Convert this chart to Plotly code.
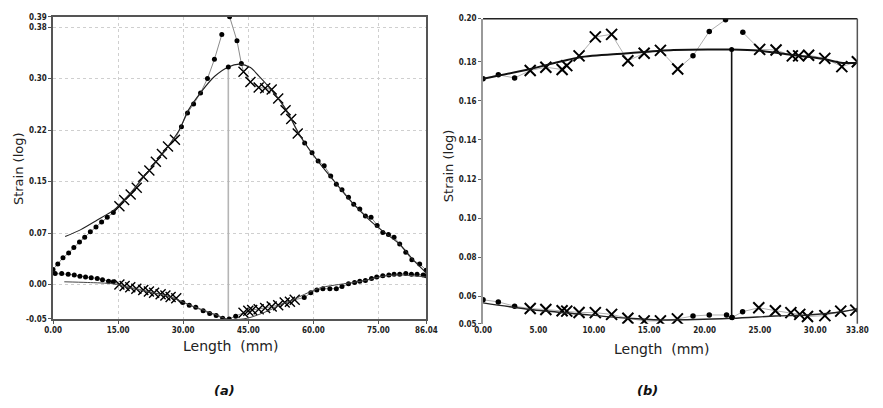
import plotly.graph_objects as go

# ---------------- Panel (a) data ----------------
a_up_x = [0.0, 1.1, 2.3, 3.6, 4.8, 6.1, 7.3, 8.6, 9.9, 11.2, 12.5, 13.9,
          15.3, 16.4, 17.9, 19.3, 20.8, 22.2, 23.7, 25.1, 26.5, 28.1,
          29.6, 31.0, 32.4, 34.0, 35.6, 37.2, 38.9, None,
          40.7, 42.4, 43.4,
          43.9, 45.5, 47.4, 48.9, 50.4, 51.9, 53.6, 54.9, 56.4,
          58.0, 59.7, 61.1, 62.5, 64.0, 65.3, 66.6, 68.1, 69.3, 70.7, 72.0, 73.3,
          74.7, 76.0, 77.3, 78.6, 79.9, 81.3, 82.7, 84.5, 86.0]
a_up_y = [0.022, 0.030, 0.039, 0.046, 0.054, 0.062, 0.069, 0.077, 0.084, 0.091, 0.098, 0.105,
          0.114, 0.123, 0.131, 0.141, 0.157, 0.166, 0.179, 0.190, 0.201, 0.211,
          0.230, 0.250, 0.263, 0.279, 0.300, 0.328, 0.364, None,
          0.390, 0.355, 0.322,
          0.310, 0.295, 0.287, 0.286, 0.284, 0.271, 0.254, 0.241, 0.220,
          0.206, 0.192, 0.180, 0.173, 0.158, 0.146, 0.138, 0.127, 0.117, 0.110, 0.100, 0.098,
          0.086, 0.076, 0.073, 0.069, 0.059, 0.047, 0.036, 0.030, 0.021]
a_up_kind = ["d"] * 12 + ["x"] * 10 + ["d"] * 7 + [None] + ["d"] * 3 + ["x"] * 9 + ["d"] * 21

a_up_fit_x = [2.8, 6.4, 10.2, 13.9, 17.0, 20.0, 23.0, 26.0, 29.0, 31.2, 34.2, 37.2, 40.4, 43.0,
              45.5, 47.4, 49.3, 51.5, 53.6, 56.4, 59.0, 62.0, 65.0, 68.0, 71.0, 74.0, 77.0,
              80.0, 83.0, 86.04]
a_up_fit_y = [0.070, 0.080, 0.094, 0.108, 0.127, 0.150, 0.173, 0.197, 0.224, 0.254, 0.281, 0.303,
              0.317, 0.321, 0.316, 0.304, 0.291, 0.274, 0.256, 0.223, 0.197, 0.172, 0.149,
              0.126, 0.106, 0.088, 0.073, 0.058, 0.036, 0.017]

a_lo_x = [0.5, 2.0, 3.5, 4.9, 6.2, 7.5, 8.8, 10.2, 11.4, 12.8, 13.9,
          15.3, 16.5, 17.8, 19.2, 20.8, 22.1, 23.3, 24.8, 25.9, 27.1, 28.4,
          29.9, 31.4, 32.9, 34.6, 36.1, 37.6, 39.1, 40.6, 42.1,
          43.9, 45.0, 45.9, 47.4, 48.9, 50.4, 51.9, 53.4, 54.6, 55.7,
          57.9, 59.4, 60.8, 62.2, 63.8, 65.3, 66.6, 68.1, 69.5, 70.7, 72.0, 73.4, 74.6,
          76.0, 77.4, 78.6, 79.9, 81.3, 82.6, 83.9, 85.3, 86.0]
a_lo_y = [0.016, 0.016, 0.015, 0.014, 0.012, 0.011, 0.010, 0.009, 0.007, 0.005, 0.004,
          0.000, -0.002, -0.004, -0.006, -0.008, -0.010, -0.012, -0.014, -0.016, -0.018, -0.020,
          -0.026, -0.030, -0.033, -0.038, -0.042, -0.045, -0.049, -0.050, -0.046,
          -0.041, -0.038, -0.037, -0.036, -0.034, -0.032, -0.030, -0.026, -0.025, -0.022,
          -0.019, -0.012, -0.008, -0.006, -0.006, -0.006, -0.003, 0.001, 0.003, 0.005, 0.006,
          0.009, 0.011, 0.013, 0.014, 0.015, 0.015, 0.016, 0.015, 0.015, 0.014, 0.013]
a_lo_kind = ["d"] * 11 + ["x"] * 11 + ["d"] * 9 + ["x"] * 10 + ["d"] * 22

a_lo_fit_x = [2.6, 8.0, 13.9, 17.0, 20.0, 23.0, 26.0, 29.0, 32.0, 35.0, 38.0, 40.6, 44.8, 49.3,
              52.3, 56.0, 59.8, 62.0, 65.8, 68.0, 72.0, 76.0, 80.0, 86.04]
a_lo_fit_y = [0.004, 0.003, 0.001, -0.004, -0.008, -0.012, -0.016, -0.023, -0.031, -0.038,
              -0.045, -0.051, -0.049, -0.039, -0.030, -0.020, -0.009, -0.004, 0.000, 0.002,
              0.006, 0.012, 0.014, 0.011]

a_vline_x = 40.4
a_vline_y = [-0.05, 0.317]

a_xticks = [0, 15, 30, 45, 60, 75, 86.04]
a_xtext = ["0.00", "15.00", "30.00", "45.00", "60.00", "75.00", "86.04"]
a_yticks = [-0.05, 0.0, 0.075, 0.15, 0.225, 0.30, 0.375, 0.39]
a_ytext = ["-0.05", "0.00", "0.07", "0.15", "0.22", "0.30", "0.38", "0.39"]

# ---------------- Panel (b) data ----------------
b_up_x = [0.0, 1.38, 2.85,
          4.26, 5.67, 7.14, 7.56, 8.67, 10.14, 11.61, 13.08, 14.55, 16.02, 17.58,
          18.96, 20.43, 21.9, None, 23.46,
          24.98, 26.46, 27.93, 28.5, 29.4, 30.86, 32.4, 33.8]
b_up_y = [0.1713, 0.1733, 0.1717,
          0.1755, 0.1772, 0.1760, 0.1780, 0.1830, 0.1927, 0.1940, 0.1805, 0.1843, 0.1858, 0.1763,
          0.1830, 0.1955, 0.2015, None, 0.1950,
          0.1863, 0.1860, 0.1830, 0.1830, 0.1833, 0.1817, 0.1775, 0.1800]
b_up_kind = ["d"] * 3 + ["x"] * 11 + ["d"] * 3 + [None] + ["d"] + ["x"] * 8

b_up_fit_x = [0.0, 4.26, 8.67, 12.8, 17.2, 22.43, 24.85, 27.8, 30.7, 32.3, 33.8]
b_up_fit_y = [0.1713, 0.1763, 0.1822, 0.1842, 0.1860, 0.1862, 0.1857, 0.1835, 0.1815, 0.1795, 0.1793]

b_lo_x = [0.0, 1.38, 2.85,
          4.26, 5.67, 7.14, 7.56, 8.67, 10.14, 11.61, 13.08, 14.55, 16.02, 17.55,
          18.96, 20.43, 21.99, 22.5, 23.44,
          24.9, 26.4, 27.8, 28.6, 29.3, 30.87, 32.3, 33.66]
b_lo_y = [0.0583, 0.0572, 0.0550,
          0.0538, 0.0533, 0.0527, 0.0525, 0.0518, 0.0517, 0.0508, 0.0488, 0.0475, 0.0475, 0.0485,
          0.0500, 0.0505, 0.0505, 0.0492, 0.0522,
          0.0542, 0.0527, 0.0517, 0.0508, 0.0497, 0.0502, 0.0525, 0.0530]
b_lo_kind = ["d"] * 3 + ["x"] * 11 + ["d"] * 5 + ["x"] * 8

b_lo_fit_x = [0.0, 4.26, 8.67, 13.08, 16.0, 22.5, 26.4, 29.3, 32.3, 33.66]
b_lo_fit_y = [0.0567, 0.0533, 0.0510, 0.0488, 0.0480, 0.0488, 0.0500, 0.0505, 0.0520, 0.0535]

b_vline_x = 22.45
b_vline_y = [0.0492, 0.1862]

b_xticks = [0, 5, 10, 15, 20, 25, 30, 33.8]
b_xtext = ["0.00", "5.00", "10.00", "15.00", "20.00", "25.00", "30.00", "33.80"]
b_yticks = [0.046, 0.06, 0.08, 0.10, 0.12, 0.14, 0.16, 0.18, 0.202]
b_ytext = ["0.05", "0.06", "0.08", "0.10", "0.12", "0.14", "0.16", "0.18", "0.20"]

x_title = "Length  (mm)"
y_title = "Strain (log)"
panel_labels = ["(a)", "(b)"]

# ---------------- Figure ----------------
fig = go.Figure()


def split_segments(xs, ys):
    segs, cx, cy = [], [], []
    for x, y in zip(xs, ys):
        if x is None:
            if cx:
                segs.append((cx, cy))
            cx, cy = [], []
        else:
            cx.append(x)
            cy.append(y)
    if cx:
        segs.append((cx, cy))
    return segs


def add_series(xs, ys, kinds, xa, ya, line_color, line_w, dot_size, x_size, x_lw):
    for sx, sy in split_segments(xs, ys):
        fig.add_trace(go.Scatter(x=sx, y=sy, mode="lines", xaxis=xa, yaxis=ya,
                                 line=dict(color=line_color, width=line_w), hoverinfo="skip"))
    dx = [x for x, k in zip(xs, kinds) if k == "d"]
    dy = [y for y, k in zip(ys, kinds) if k == "d"]
    cx = [x for x, k in zip(xs, kinds) if k == "x"]
    cy = [y for y, k in zip(ys, kinds) if k == "x"]
    fig.add_trace(go.Scatter(x=dx, y=dy, mode="markers", xaxis=xa, yaxis=ya,
                             marker=dict(symbol="circle", size=dot_size, color="black")))
    fig.add_trace(go.Scatter(x=cx, y=cy, mode="markers", xaxis=xa, yaxis=ya,
                             marker=dict(symbol="x-thin", size=x_size, color="black",
                                         line=dict(color="black", width=x_lw))))


def add_line(xs, ys, xa, ya, color, width, shape="spline"):
    fig.add_trace(go.Scatter(x=xs, y=ys, mode="lines", xaxis=xa, yaxis=ya,
                             line=dict(color=color, width=width, shape=shape, smoothing=0.8)))


# panel a
add_line([a_vline_x, a_vline_x], a_vline_y, "x", "y", "#b5b5b5", 1.6, "linear")
add_series(a_up_x, a_up_y, a_up_kind, "x", "y", "#8a8a8a", 1, 5, 10, 1.4)
add_series(a_lo_x, a_lo_y, a_lo_kind, "x", "y", "#8a8a8a", 1, 5, 10, 1.4)
add_line(a_up_fit_x, a_up_fit_y, "x", "y", "#222222", 1.1)
add_line(a_lo_fit_x, a_lo_fit_y, "x", "y", "#444444", 1.0)
fig.add_trace(go.Scatter(x=[a_vline_x], y=[a_vline_y[1]], mode="markers", xaxis="x", yaxis="y",
                         marker=dict(size=5, color="black")))

# panel b
add_line([b_vline_x, b_vline_x], b_vline_y, "x2", "y2", "#111111", 1.6, "linear")
add_series(b_up_x, b_up_y, b_up_kind, "x2", "y2", "#b0b0b0", 1, 5.5, 11, 2)
add_series(b_lo_x, b_lo_y, b_lo_kind, "x2", "y2", "#b0b0b0", 1, 5.5, 11, 2)
add_line(b_up_fit_x, b_up_fit_y, "x2", "y2", "#111111", 2)
add_line(b_lo_fit_x, b_lo_fit_y, "x2", "y2", "#222222", 1.4)
fig.add_trace(go.Scatter(x=[b_vline_x, b_vline_x], y=b_vline_y, mode="markers", xaxis="x2", yaxis="y2",
                         marker=dict(size=5, color="black")))

tickfont = dict(family="DejaVu Sans Condensed, DejaVu Sans", size=8, color="#222", weight="bold")

fig.update_layout(
    width=883, height=408, margin=dict(l=0, r=0, t=0, b=0),
    paper_bgcolor="white", plot_bgcolor="white", showlegend=False,
    xaxis=dict(domain=[0.051, 0.4836], range=[0, 86.04], anchor="y",
               tickmode="array", tickvals=a_xticks, ticktext=a_xtext, tickfont=tickfont,
               showgrid=True, gridcolor="#cfcfcf", griddash="dot", gridwidth=1,
               showline=True, linecolor="#555", linewidth=1.5, mirror=True,
               ticks="outside", ticklen=3, tickcolor="#555", zeroline=False),
    yaxis=dict(domain=[0.2108, 0.968], range=[-0.05, 0.39], anchor="x",
               tickmode="array", tickvals=a_yticks, ticktext=a_ytext, tickfont=tickfont,
               showgrid=True, gridcolor="#cfcfcf", griddash="dot", gridwidth=1,
               showline=True, linecolor="#555", linewidth=1.5, mirror=True,
               ticks="outside", ticklen=3, tickcolor="#555", zeroline=False),
    xaxis2=dict(domain=[0.5493, 0.983], range=[0, 33.8], anchor="y2",
                tickmode="array", tickvals=b_xticks, ticktext=b_xtext, tickfont=tickfont,
                showgrid=False, showline=False, ticks="", zeroline=False),
    yaxis2=dict(domain=[0.1985, 0.9632], range=[0.046, 0.202], anchor="x2",
                tickmode="array", tickvals=b_yticks, ticktext=b_ytext, tickfont=tickfont,
                showgrid=False, showline=True, linecolor="#999", linewidth=2,
                ticks="outside", ticklen=3, tickcolor="#666", zeroline=False),
)

# frame lines for panel b (top and right)
fig.add_shape(type="line", xref="x2 domain", yref="y2 domain", x0=0, x1=1, y0=1, y1=1,
              line=dict(color="#222", width=1.5))
fig.add_shape(type="line", xref="x2 domain", yref="y2 domain", x0=1, x1=1, y0=0, y1=1,
              line=dict(color="#555", width=1.5))

title_font = dict(family="DejaVu Sans", size=14, color="#222")
ann = [
    dict(text=x_title, x=227 / 883, y=1 - 350 / 408, font=title_font),
    dict(text=x_title, x=668 / 883, y=1 - 353 / 408, font=title_font),
    dict(text=y_title, x=9 / 883, y=1 - 168 / 408, textangle=-90, font=dict(family="DejaVu Sans", size=13, color="#222")),
    dict(text=y_title, x=450 / 883, y=1 - 165 / 408, textangle=-90, font=dict(family="DejaVu Sans", size=13, color="#222")),
    dict(text="<b><i>" + panel_labels[0] + "</i></b>", x=221 / 883, y=1 - 395 / 408,
         font=dict(family="DejaVu Sans", size=13, color="#111")),
    dict(text="<b><i>" + panel_labels[1] + "</i></b>", x=653 / 883, y=1 - 395 / 408,
         font=dict(family="DejaVu Sans", size=13, color="#111")),
]
for a in ann:
    fig.add_annotation(xref="paper", yref="paper", showarrow=False, xanchor="center", yanchor="middle", **a)

fig.write_html("out.html")
